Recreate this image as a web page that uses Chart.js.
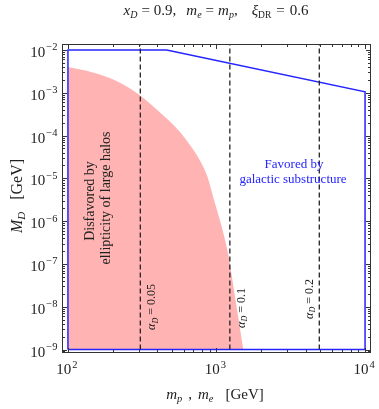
<!DOCTYPE html>
<html>
<head>
<meta charset="utf-8">
<script src="https://cdn.jsdelivr.net/npm/chart.js@4.4.0/dist/chart.umd.min.js"></script>
<style>
html, body { margin: 0; padding: 0; background: #fff; }
#wrap { width: 379px; height: 409px; }
</style>
</head>
<body>
<div id="wrap"><canvas id="chart" width="379" height="409"></canvas></div>
<script>
// favored region (blue outline), closed polygon
const favoredX = [100, 100, 462, 10000, 10000, 100];
const favoredY = [1e-9, 1e-2, 1e-2, 1.05e-3, 1e-9, 1e-9];

// disfavored by halo ellipticity (pink area above 1e-9)
const ellipX = [100, 147, 214, 305, 417, 486, 568, 663, 774, 863, 961, 1083, 1201, 1343, 1515];
const ellipY = [3.98e-3, 2.98e-3, 1.87e-3, 8.8e-4, 3.46e-4, 2.13e-4, 1.21e-4, 6.0e-5, 2.6e-5, 1.16e-5, 3.17e-6, 7.5e-7, 1.63e-7, 1.44e-8, 1e-9];

// dashed alpha_D lines
const alphaMass = [307, 1230, 4920];
const alphaText = ['0.05', '0.1', '0.2'];
const alphaSpan = [1e-9, 0.014];

const xTickExps = [2, 3, 4];
const yTickExps = [-9, -8, -7, -6, -5, -4, -3, -2];

const SERIF = '"Liberation Serif", "DejaVu Serif", serif';
const BLUE = '#2424ff';
const PINK = '#ffb3b3';

function font(s) {
  return (s.i ? 'italic ' : '') + s.size + 'px ' + SERIF;
}

function segWidth(ctx, s) {
  if (s.g) return s.g;
  ctx.font = font(s);
  return ctx.measureText(s.t).width;
}

function drawRich(ctx, segs, x, y, align) {
  let w = 0;
  segs.forEach(s => { w += segWidth(ctx, s); });
  let cx = align === 'center' ? x - w / 2 : align === 'right' ? x - w : x;
  ctx.textAlign = 'left';
  ctx.textBaseline = 'alphabetic';
  segs.forEach(s => {
    if (!s.g) {
      ctx.font = font(s);
      ctx.fillText(s.t, cx, y + (s.dy || 0));
    }
    cx += segWidth(ctx, s);
  });
}

function drawRotated(ctx, segs, x, y) {
  ctx.save();
  ctx.translate(x, y);
  ctx.rotate(-Math.PI / 2);
  drawRich(ctx, segs, 0, 0, 'center');
  ctx.restore();
}

const decor = {
  id: 'decor',
  afterDatasetsDraw(chart) {
    const { ctx, chartArea: a, scales } = chart;
    const sx = scales.x, sy = scales.y;
    ctx.save();

    // frame
    ctx.strokeStyle = '#333';
    ctx.lineWidth = 1;
    ctx.strokeRect(a.left + 0.5, a.top + 0.5, a.right - a.left - 1, a.bottom - a.top - 1);

    // ticks, inward on all four sides
    ctx.beginPath();
    for (let e = 1; e <= 4; e++) {
      for (let k = 1; k <= 9; k++) {
        const v = k * Math.pow(10, e);
        if (v < sx.min || v > sx.max) continue;
        const px = Math.round(sx.getPixelForValue(v)) + 0.5;
        const len = k === 1 ? 5 : 3;
        ctx.moveTo(px, a.bottom); ctx.lineTo(px, a.bottom - len);
        ctx.moveTo(px, a.top); ctx.lineTo(px, a.top + len);
      }
    }
    for (let e = -10; e <= -2; e++) {
      for (let k = 1; k <= 9; k++) {
        const v = k * Math.pow(10, e);
        if (v < sy.min || v > sy.max) continue;
        const py = Math.round(sy.getPixelForValue(v)) + 0.5;
        const len = k === 1 ? 5 : 3;
        ctx.moveTo(a.left, py); ctx.lineTo(a.left + len, py);
        ctx.moveTo(a.right, py); ctx.lineTo(a.right - len, py);
      }
    }
    ctx.stroke();

    // tick labels
    ctx.fillStyle = '#222';
    yTickExps.forEach(e => {
      const py = sy.getPixelForValue(Math.pow(10, e));
      drawRich(ctx, [{ t: '10', size: 15 }, { g: 1 }, { t: '\u2212' + (-e), size: 10.5, dy: -6.5 }], 57.5, py + 7, 'right');
    });
    xTickExps.forEach(e => {
      const px = sx.getPixelForValue(Math.pow(10, e));
      drawRich(ctx, [{ t: '10', size: 15 }, { g: 1 }, { t: String(e), size: 10.5, dy: -6.5 }], px - 1, 374, 'center');
    });

    // title
    drawRich(ctx, [
      { t: 'x', i: true, size: 15 }, { t: 'D', i: true, size: 10, dy: 3 },
      { g: 4 }, { t: '=', size: 15 }, { g: 4 }, { t: '0.9,', size: 15 }, { g: 10 },
      { t: 'm', i: true, size: 15 }, { t: 'e', i: true, size: 10, dy: 3 },
      { g: 4 }, { t: '=', size: 15 }, { g: 4 },
      { t: 'm', i: true, size: 15 }, { t: 'p', i: true, size: 10, dy: 3 },
      { t: ',', size: 15 }, { g: 14 },
      { t: '\u03be', i: true, size: 15 }, { t: 'DR', size: 9.5, dy: 3 },
      { g: 5 }, { t: '=', size: 15 }, { g: 5 }, { t: '0.6', size: 15 }
    ], 216, 15, 'center');

    // axis titles
    drawRich(ctx, [
      { t: 'm', i: true, size: 15 }, { t: 'p', i: true, size: 10.5, dy: 3 },
      { g: 6 }, { t: ',', size: 15 }, { g: 6 },
      { t: 'm', i: true, size: 15 }, { t: 'e', i: true, size: 10.5, dy: 3 },
      { g: 12 }, { t: '[GeV]', size: 15 }
    ], 215, 399, 'center');
    drawRotated(ctx, [
      { t: 'M', i: true, size: 16 }, { t: 'D', i: true, size: 11, dy: 3 },
      { g: 12 }, { t: '[GeV]', size: 16 }
    ], 22, 196);

    // alpha_D labels along the dashed lines
    const alphaDx = [15, 15, -6.5];
    const alphaY = [307, 308, 299];
    alphaMass.forEach((m, i) => {
      const px = sx.getPixelForValue(m);
      drawRotated(ctx, [
        { t: '\u03b1', i: true, size: 12 }, { t: 'D', i: true, size: 8, dy: 2.5 },
        { t: ' = ' + alphaText[i], size: 12 }
      ], px + alphaDx[i], alphaY[i]);
    });

    // region labels
    drawRotated(ctx, [{ t: 'Disfavored by', size: 14 }], 94, 201);
    drawRotated(ctx, [{ t: 'ellipticity of large halos', size: 14 }], 110, 198);
    ctx.fillStyle = BLUE;
    drawRich(ctx, [{ t: 'Favored by', size: 13 }], 294, 168, 'center');
    drawRich(ctx, [{ t: 'galactic substructure', size: 13 }], 293, 183, 'center');

    ctx.restore();
  }
};

const datasets = [];
alphaMass.forEach(m => {
  datasets.push({
    data: alphaSpan.map(v => ({ x: m, y: v })),
    borderColor: '#222',
    borderWidth: 1.3,
    borderDash: [5, 3],
    pointRadius: 0,
    fill: false
  });
});
datasets.push({
  data: favoredX.map((v, i) => ({ x: v, y: favoredY[i] })),
  borderColor: BLUE,
  borderWidth: 1.5,
  pointRadius: 0,
  fill: false
});
datasets.push({
  data: ellipX.map((v, i) => ({ x: v, y: ellipY[i] })),
  borderWidth: 0,
  borderColor: PINK,
  backgroundColor: PINK,
  pointRadius: 0,
  cubicInterpolationMode: 'monotone',
  fill: { value: 1e-9 }
});

new Chart(document.getElementById('chart'), {
  type: 'line',
  data: { datasets },
  options: {
    responsive: false,
    animation: false,
    events: [],
    layout: { padding: { left: 62, right: 8, top: 44, bottom: 56 } },
    plugins: { legend: { display: false }, tooltip: { enabled: false } },
    scales: {
      x: {
        type: 'logarithmic', min: 91.2, max: 10965, bounds: 'data',
        grid: { display: false }, ticks: { display: false }, border: { display: false },
        afterFit: s => { s.height = 0; }
      },
      y: {
        type: 'logarithmic', min: 8.3e-10, max: 0.0138, bounds: 'data',
        grid: { display: false }, ticks: { display: false }, border: { display: false },
        afterFit: s => { s.width = 0; }
      }
    }
  },
  plugins: [decor]
});
</script>
</body>
</html>
